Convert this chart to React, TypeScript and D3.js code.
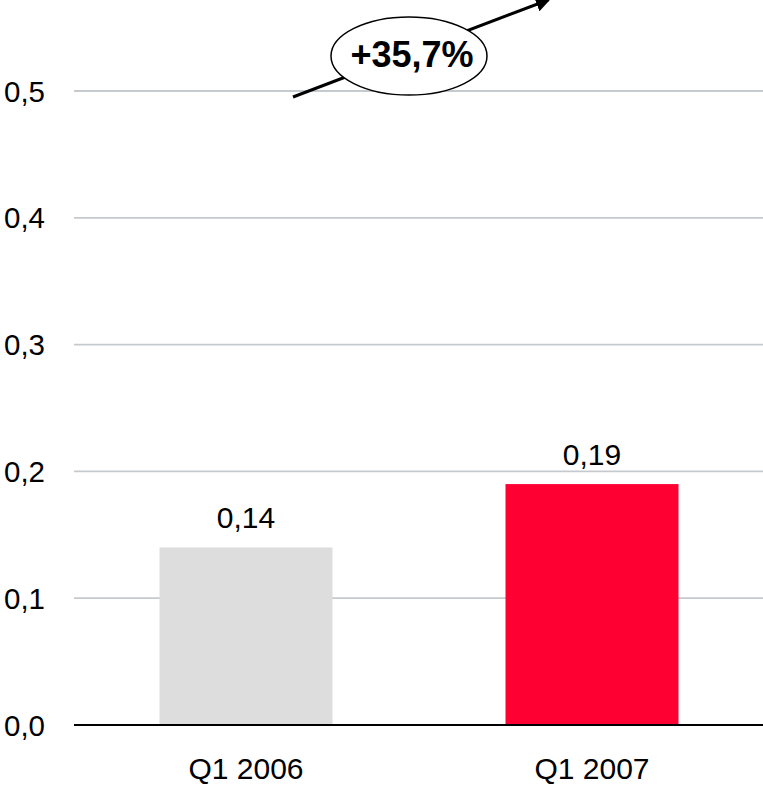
import * as d3 from 'd3';

const categories = ['Q1 2006', 'Q1 2007'];
const values = [0.14, 0.19];
const barColors = ['#dddddd', '#ff0033'];
const yTicks = [0, 0.1, 0.2, 0.3, 0.4, 0.5];
const growthLabel = '+35,7%';

const width = 763;
const height = 785;
const fmt = (v: number, digits: number) => v.toFixed(digits).replace('.', ',');

export default function App() {
  const x = d3
    .scaleBand<string>()
    .domain(categories)
    .range([73, 765])
    .paddingInner(0.5)
    .paddingOuter(0.25);

  const y = d3.scaleLinear().domain([0, 0.5]).range([725, 91]);

  // arrow annotation path (from Q1 2006 side up to the top right)
  const arrowStart: [number, number] = [293, 97];
  const arrowEnd: [number, number] = [548, 0];

  return (
    <svg
      width={width}
      height={height}
      style={{ position: 'absolute', left: 0, top: 0, background: '#fff' }}
      fontFamily="'Liberation Sans', Arial, sans-serif"
    >
      <defs>
        <marker
          id="arrowhead"
          viewBox="0 0 10 10"
          refX="8"
          refY="5"
          markerWidth="5"
          markerHeight="5"
          orient="auto"
        >
          <path d="M0,0 L10,5 L0,10 z" fill="#000" />
        </marker>
      </defs>

      {/* gridlines + tick labels */}
      {yTicks.map((t) => (
        <g key={t}>
          {t > 0 && (
            <line x1={74} x2={width} y1={y(t)} y2={y(t)} stroke="#c5cacf" strokeWidth={1.8} />
          )}
          <text x={4} y={y(t)} dy="0.36em" fontSize={29.5} fill="#000">
            {fmt(t, 1)}
          </text>
        </g>
      ))}

      {/* bars */}
      {categories.map((c, i) => (
        <g key={c}>
          <rect
            x={x(c)}
            y={y(values[i])}
            width={x.bandwidth()}
            height={y(0) - y(values[i])}
            fill={barColors[i]}
          />
          <text
            x={x(c)! + x.bandwidth() / 2}
            y={y(values[i]) - 19}
            textAnchor="middle"
            fontSize={30}
            fill="#000"
          >
            {fmt(values[i], 2)}
          </text>
          <text
            x={x(c)! + x.bandwidth() / 2}
            y={779}
            textAnchor="middle"
            fontSize={30}
            fill="#000"
          >
            {c}
          </text>
        </g>
      ))}

      {/* baseline */}
      <line x1={74} x2={width} y1={y(0)} y2={y(0)} stroke="#000" strokeWidth={2} />

      {/* growth annotation */}
      <line
        x1={arrowStart[0]}
        y1={arrowStart[1]}
        x2={arrowEnd[0]}
        y2={arrowEnd[1]}
        stroke="#000"
        strokeWidth={3}
        markerEnd="url(#arrowhead)"
      />
      <ellipse cx={409} cy={56} rx={78} ry={39} fill="#fff" stroke="#000" strokeWidth={1.5} />
      <text x={412} y={67} textAnchor="middle" fontSize={36} fontWeight="bold" fill="#000">
        {growthLabel}
      </text>
    </svg>
  );
}
